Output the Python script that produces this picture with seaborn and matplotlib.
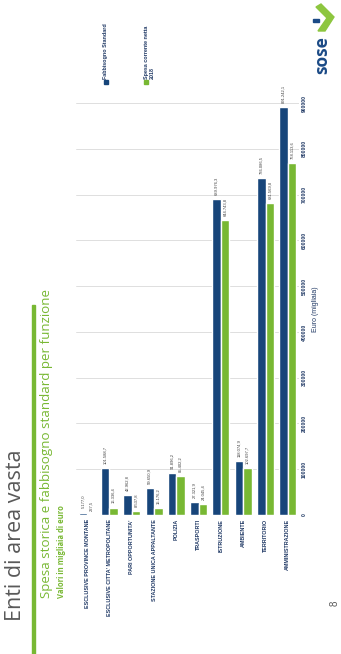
import matplotlib
matplotlib.use("Agg")
import matplotlib.pyplot as plt
import matplotlib.patches as mpatches
import seaborn as sns
import pandas as pd

categories = [
    "ESCLUSIVE PROVINCE MONTANE",
    "ESCLUSIVE CITTA' METROPOLITANE",
    "PARI OPPORTUNITA'",
    "STAZIONE UNICA APPALTANTE",
    "POLIZIA",
    "TRASPORTI",
    "ISTRUZIONE",
    "AMBIENTE",
    "TERRITORIO",
    "AMMINISTRAZIONE",
]
fabbisogno_standard = [5177.0, 101588.7, 42962.8, 59650.9, 91896.2, 27321.9,
                       689976.3, 118074.9, 736086.5, 891242.1]
spesa_corrente = [227.5, 16336.4, 8537.8, 15176.2, 85402.2, 24045.4,
                  644743.8, 102697.7, 681569.8, 768113.6]
series_names = ["Fabbisogno Standard", "Spesa corrente netta 2018"]
y_ticks = [0, 100000, 200000, 300000, 400000, 500000, 600000, 700000, 800000, 900000]

BLUE = "#17457A"
GREEN = "#78B833"
NAVY = "#1F3864"

df = pd.DataFrame({
    "cat": categories * 2,
    "val": fabbisogno_standard + spesa_corrente,
    "serie": [series_names[0]] * len(categories) + [series_names[1]] * len(categories),
})

sns.set_theme(style="white")
plt.rcParams["font.family"] = ["Liberation Sans", "DejaVu Sans"]

W, H = 341, 654
fig = plt.figure(figsize=(W / 100, H / 100), dpi=100)
fig.patch.set_facecolor("white")

def fx(px):
    return px / W

def fy(py):
    return (H - py) / H

ax = fig.add_axes([fx(76), fy(515), fx(299) - fx(76), fy(103) - fy(515)])
sns.barplot(data=df, x="cat", y="val", hue="serie", palette=[BLUE, GREEN],
            width=0.76, saturation=1, ax=ax, legend=False, order=categories)
ax.set_ylim(0, 900000)
ax.set_yticks(y_ticks)
ax.set_yticklabels([str(v) for v in y_ticks])
ax.yaxis.tick_right()
ax.yaxis.set_label_position("right")
ax.tick_params(axis="y", length=0, pad=2, labelsize=3.6, labelcolor=NAVY)
for lab in ax.get_yticklabels():
    lab.set_rotation(90)
    lab.set_va("center")
    lab.set_fontweight("bold")
ax.set_ylabel("Euro (migliaia)", fontsize=5, color=NAVY, labelpad=4, rotation=90)
ax.set_xlabel("")
ax.tick_params(axis="x", length=0, pad=3, labelsize=3.9, labelcolor=NAVY)
for lab in ax.get_xticklabels():
    lab.set_rotation(90)
    lab.set_fontweight("bold")
ax.grid(axis="y", color="#D9D9D9", linewidth=0.6)
ax.set_axisbelow(True)
for s in ax.spines.values():
    s.set_visible(False)

def it_fmt(v):
    s = f"{v:,.1f}"
    return s.replace(",", "X").replace(".", ",").replace("X", ".")

for cont in ax.containers:
    ax.bar_label(cont, labels=[it_fmt(b.get_height()) for b in cont],
                 rotation=90, fontsize=3.0, padding=3, color="#404040")

# Legend (rotated)
fig.patches.append(mpatches.Rectangle((fx(104), fy(84)), 4 / W, 4 / H,
                                      transform=fig.transFigure, color=BLUE))
fig.text(fx(106), fy(79), series_names[0], rotation=90, ha="center", va="bottom",
         fontsize=3.9, color=NAVY, fontweight="bold")
fig.patches.append(mpatches.Rectangle((fx(144), fy(84)), 4 / W, 4 / H,
                                      transform=fig.transFigure, color=GREEN))
fig.text(fx(149), fy(79), "Spesa corrente netta\n2018", rotation=90, ha="center",
         va="bottom", fontsize=3.9, color=NAVY, multialignment="left", fontweight="bold")

# Slide decorations
fig.text(fx(16), fy(535), "Enti di area vasta", rotation=90, ha="center", va="center",
         fontsize=15.5, color="#595959", family=["Open Sans", "DejaVu Sans"])
fig.patches.append(mpatches.Rectangle((fx(32), 0), 3 / W, fy(305), transform=fig.transFigure,
                                      color=GREEN))
fig.text(fx(47), fy(598), "Spesa storica e fabbisogno standard per funzione", rotation=90,
         ha="center", va="bottom", fontsize=9.6, color=GREEN,
         family=["Open Sans", "DejaVu Sans"])
fig.text(fx(62), fy(598), "Valori in migliaia di euro", rotation=90,
         ha="center", va="bottom", fontsize=5.5, color=GREEN, fontweight="bold",
         family=["Open Sans", "DejaVu Sans"])
fig.text(fx(335), fy(603), "8", rotation=90, ha="center", va="center",
         fontsize=7, color="#595959")

# Logo
fig.text(fx(322), fy(55), "sose", rotation=90, ha="center", va="center",
         fontsize=12.5, fontweight="bold", color="#1B4A86",
         family=["Open Sans", "DejaVu Sans"])
chev = [(fx(321), fy(4)), (fx(334), fy(17)), (fx(325), fy(31)), (fx(318), fy(31)),
        (fx(327), fy(18)), (fx(316), fy(7))]
fig.patches.append(mpatches.Polygon(chev, closed=True, transform=fig.transFigure,
                                    color="#8DC63F"))
fig.patches.append(mpatches.Rectangle((fx(313), fy(22)), 6 / W, 3 / H,
                                      transform=fig.transFigure, color="#1B4A86"))

fig.savefig("out.png", dpi=100, facecolor="white")
